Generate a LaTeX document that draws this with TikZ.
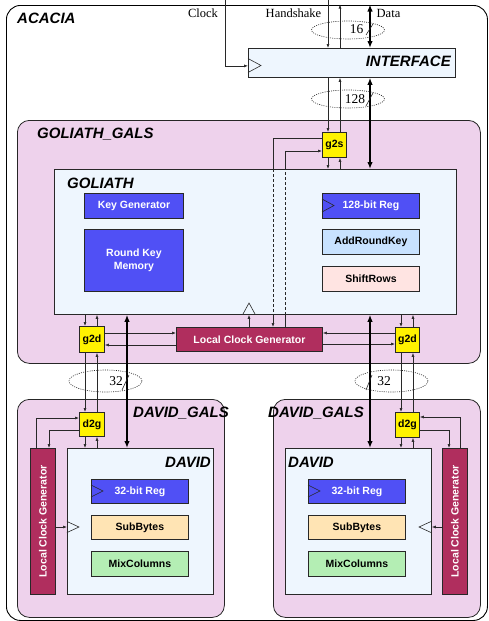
\documentclass[tikz,border=0pt]{standalone}
\usepackage{fontspec}
\setmainfont{Liberation Serif}
\setsansfont{Liberation Sans}
\usetikzlibrary{arrows.meta,shapes.geometric}
\definecolor{galsfill}{RGB}{238,210,236}
\definecolor{innerfill}{RGB}{238,246,254}
\definecolor{regblue}{RGB}{80,80,245}
\definecolor{arkfill}{RGB}{200,226,255}
\definecolor{srfill}{RGB}{255,228,226}
\definecolor{sbfill}{RGB}{255,228,180}
\definecolor{mcfill}{RGB}{180,238,180}
\definecolor{lcgfill}{RGB}{176,46,94}
\definecolor{edge}{RGB}{40,40,40}
\newcommand\myboxfont{\sffamily\bfseries\fontsize{10.5}{13}\selectfont}
\newcommand\myttlfont{\sffamily\bfseries\itshape\fontsize{15}{18}\selectfont}
\newcommand\myserfont{\rmfamily\fontsize{12.5}{15}\selectfont}
\newcommand\mynumfont{\rmfamily\fontsize{13.5}{16}\selectfont}
\begin{document}
\begin{tikzpicture}[x=1pt,y=-1pt,
  arr/.style={-{Latex[length=4pt,width=3pt]}, line width=0.6pt, draw=edge},
  plain/.style={line width=0.6pt, draw=edge},
  dsh/.style={line width=0.6pt, draw=edge, dash pattern=on 3pt off 2pt},
  bus/.style={{Latex[length=7pt,width=5.5pt]}-{Latex[length=7pt,width=5.5pt]}, line width=1.6pt, draw=black},
  container/.style={draw=black!85, line width=0.8pt, rounded corners=12pt, fill=galsfill, anchor=north west, inner sep=0pt},
  innerbox/.style={draw=edge, line width=0.8pt, fill=innerfill, anchor=north west, inner sep=0pt},
  blk/.style={draw=edge, line width=0.9pt, anchor=north west, inner sep=0pt, align=center, font=\myboxfont},
  regbox/.style={blk, fill=regblue, text=white},
  lcgbox/.style={blk, fill=lcgfill, text=white},
  syncbox/.style={blk, fill=yellow, text=black},
  ttl/.style={font=\myttlfont, inner sep=0pt},
  ser/.style={font=\myserfont, inner sep=0pt},
  num/.style={font=\mynumfont, inner sep=0pt},
  bw/.style={ellipse, draw=black!85, line width=0.6pt, dash pattern=on 1pt off 1.2pt, minimum width=73pt, inner sep=0pt},
  clk/.style={draw=edge, line width=0.6pt},
]
\useasboundingbox (0,0) rectangle (489,621);
% ---------- containers ----------
\node[draw=black, line width=0.9pt, rounded corners=14pt, anchor=north west, inner sep=0pt, minimum width=481pt, minimum height=615pt] (acacia) at (6,5) {};
\node[ttl, anchor=west] (acacialbl) at (17,18) {ACACIA};

\node[innerbox, minimum width=207pt, minimum height=29pt] (interface) at (248,48) {};
\node[ttl, anchor=east] (interfacelbl) at (451,61.5) {INTERFACE};

\node[container, minimum width=463pt, minimum height=243pt] (ggals) at (17,120) {};
\node[ttl, anchor=west] (ggalslbl) at (37,134) {GOLIATH\_GALS};
\node[innerbox, minimum width=402pt, minimum height=145pt] (goliath) at (54,169) {};
\node[ttl, anchor=west] (goliathlbl) at (67,183) {GOLIATH};

\node[regbox, minimum width=99pt, minimum height=25pt] (keygen) at (84,193) {Key Generator};
\node[regbox, minimum width=99pt, minimum height=62pt] (rkm) at (84,229) {Round Key\\Memory};
\node[regbox, minimum width=97pt, minimum height=25pt] (reg128) at (322,193) {128-bit Reg};
\node[blk, fill=arkfill, minimum width=97pt, minimum height=25pt] (ark) at (322,229) {AddRoundKey};
\node[blk, fill=srfill, minimum width=97pt, minimum height=25pt] (shiftrows) at (322,266) {ShiftRows};

\node[syncbox, minimum width=24pt, minimum height=25pt] (g2s) at (322,132) {g2s};
\node[lcgbox, minimum width=146pt, minimum height=24pt] (lcg) at (176,327) {Local Clock Generator};
\node[syncbox, minimum width=25pt, minimum height=26pt] (g2dl) at (79,326) {g2d};
\node[syncbox, minimum width=24pt, minimum height=25pt] (g2dr) at (395,327) {g2d};

\node[container, minimum width=207pt, minimum height=218pt] (dgalsl) at (17,399) {};
\node[container, minimum width=207pt, minimum height=218pt] (dgalsr) at (273,399) {};
\node[ttl, anchor=west] (dgalsllbl) at (133,413) {DAVID\_GALS};
\node[ttl, anchor=west] (dgalsrlbl) at (268,413) {DAVID\_GALS};

\node[innerbox, minimum width=146pt, minimum height=146pt] (davidl) at (67,448) {};
\node[innerbox, minimum width=146pt, minimum height=146pt] (davidr) at (285,448) {};
\node[ttl, anchor=east] (davidllbl) at (211,462) {DAVID};
\node[ttl, anchor=west] (davidrlbl) at (288,462) {DAVID};

\node[lcgbox, minimum width=25pt, minimum height=146pt] (lcgl) at (30,448) {};
\node[rotate=90, font=\myboxfont, text=white, inner sep=0pt] (lcgltxt) at (lcgl.center) {Local Clock Generator};
\node[lcgbox, minimum width=25pt, minimum height=146pt] (lcgr) at (442,448) {};
\node[rotate=90, font=\myboxfont, text=white, inner sep=0pt] (lcgrtxt) at (lcgr.center) {Local Clock Generator};

\node[regbox, minimum width=97pt, minimum height=24pt] (reg32l) at (91,479) {32-bit Reg};
\node[blk, fill=sbfill, minimum width=97pt, minimum height=24pt] (sbl) at (91,515) {SubBytes};
\node[blk, fill=mcfill, minimum width=97pt, minimum height=25pt] (mcl) at (91,551) {MixColumns};
\node[regbox, minimum width=97pt, minimum height=24pt] (reg32r) at (308,479) {32-bit Reg};
\node[blk, fill=sbfill, minimum width=97pt, minimum height=24pt] (sbr) at (308,515) {SubBytes};
\node[blk, fill=mcfill, minimum width=97pt, minimum height=25pt] (mcr) at (308,551) {MixColumns};

\node[syncbox, minimum width=25pt, minimum height=24pt] (d2gl) at (79,412) {d2g};
\node[syncbox, minimum width=24pt, minimum height=25pt] (d2gr) at (395,412) {d2g};

% ---------- clock triangles ----------
\draw[clk] (248,58.5) -- (261,65.5) -- (248,72.5);
\draw[clk] (322,199) -- (334,205.5) -- (322,212);
\draw[clk] (91,485) -- (103,491) -- (91,497);
\draw[clk] (308,485) -- (320,491) -- (308,497);
\draw[clk] (243,314) -- (249,303) -- (255,314);
\draw[clk] (67,521.5) -- (79,527) -- (67,532.5);
\draw[clk] (431,521.5) -- (419,527) -- (431,532.5);

% ---------- top labels ----------
\node[ser] (clocklbl) at (203,13) {Clock};
\node[ser] (hslbl) at (293.5,13) {Handshake};
\node[ser] (datalbl) at (388.5,13) {Data};

\coordinate (clktop) at (225,0);
\coordinate (hstop) at (328,0);
\coordinate (hsup) at (340,4.5);
\coordinate (datatop) at (370,4.5);
\draw[arr] (clktop) |- ([yshift=-3pt]interface.west);
\draw[arr] (hstop) -- (interface.north -| hstop);
\draw[arr] (interface.north -| hsup) -- (hsup);
\draw[bus] (datatop) -- (interface.north -| datatop);

% ---------- interface to goliath ----------
\draw[arr] (interface.south -| 328,0) -- (g2s.north -| 328,0);
\draw[arr] (g2s.north -| 340,0) -- (interface.south -| 340,0);
\draw[bus] (interface.south -| 370,0) -- (goliath.north -| 370,0);
\draw[arr] (g2s.south -| 328,0) -- (goliath.north -| 328,0);
\draw[arr] (goliath.north -| 340,0) -- (g2s.south -| 340,0);

% g2s <-> local clock generator
\draw[plain] (g2s.west |- 0,138) -| (goliath.north -| 273,0);
\draw[dsh] (goliath.north -| 273,0) -- (goliath.south -| 273,0);
\draw[arr] (goliath.south -| 273,0) -- (lcg.north -| 273,0);
\draw[plain] (lcg.north -| 285,0) -- (goliath.south -| 285,0);
\draw[dsh] (goliath.south -| 285,0) -- (goliath.north -| 285,0);
\draw[arr] (goliath.north -| 285,0) |- (g2s.west |- 0,151);

\draw[arr] (lcg.north -| 249,0) -- (goliath.south -| 249,0);

% goliath <-> g2d
\draw[arr] (goliath.south -| 85,0) -- (g2dl.north -| 85,0);
\draw[arr] (g2dl.north -| 97,0) -- (goliath.south -| 97,0);
\draw[arr] (g2dl.east |- 0,333) -- (lcg.west |- 0,333);
\draw[arr] (lcg.west |- 0,345) -- (g2dl.east |- 0,345);
\draw[arr] (goliath.south -| 401,0) -- (g2dr.north -| 401,0);
\draw[arr] (g2dr.north -| 413,0) -- (goliath.south -| 413,0);
\draw[arr] (g2dr.west |- 0,333) -- (lcg.east |- 0,333);
\draw[arr] (lcg.east |- 0,344) -- (g2dr.west |- 0,344);

% buses to davids
\draw[bus] (goliath.south -| 127,0) -- (davidl.north -| 127,0);
\draw[bus] (goliath.south -| 370,0) -- (davidr.north -| 370,0);

% g2d <-> d2g
\draw[arr] (g2dl.south -| 85,0) -- (d2gl.north -| 85,0);
\draw[arr] (d2gl.north -| 97,0) -- (g2dl.south -| 97,0);
\draw[arr] (g2dr.south -| 401,0) -- (d2gr.north -| 401,0);
\draw[arr] (d2gr.north -| 413,0) -- (g2dr.south -| 413,0);

% d2g <-> david
\draw[arr] (d2gl.south -| 85,0) -- (davidl.north -| 85,0);
\draw[arr] (davidl.north -| 97,0) -- (d2gl.south -| 97,0);
\draw[arr] (d2gr.south -| 401,0) -- (davidr.north -| 401,0);
\draw[arr] (davidr.north -| 413,0) -- (d2gr.south -| 413,0);

% d2g <-> local clock generators
\draw[arr] (lcgl.north -| 36,0) |- (d2gl.west |- 0,418);
\draw[arr] (d2gl.west |- 0,430) -| (lcgl.north -| 49,0);
\draw[arr] (lcgr.north -| 460,0) |- (d2gr.east |- 0,417);
\draw[arr] (d2gr.east |- 0,430) -| (lcgr.north -| 449,0);

% clocks into davids
\draw[arr] (lcgl.east |- 0,527) -- (davidl.west |- 0,527);
\draw[arr] (lcgr.west |- 0,527) -- (davidr.east |- 0,527);

% ---------- bus width marks ----------
\node[bw, minimum height=18pt] (e16) at (348,30) {};
\node[num] (w16) at (356.5,29) {16};
\draw[plain] (366,35) -- (373,24);
\node[bw, minimum height=18pt] (e128) at (348,99) {};
\node[num] (w128) at (355,99) {128};
\draw[plain] (366,106) -- (373,93);
\node[bw, minimum height=22pt] (e32l) at (105.5,381) {};
\node[num] (w32l) at (116,381) {32};
\draw[plain] (122,390) -- (129,375);
\node[bw, minimum height=22pt] (e32r) at (391.5,381) {};
\node[num] (w32r) at (384,381) {32};
\draw[plain] (366,390) -- (372,375);
\end{tikzpicture}
\end{document}
